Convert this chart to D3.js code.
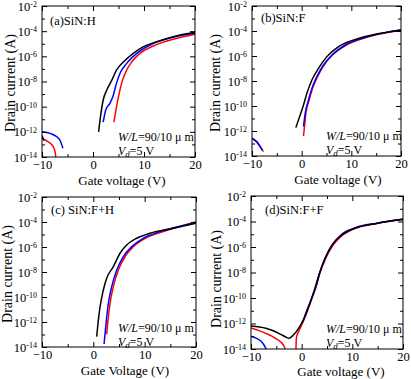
<!DOCTYPE html>
<html>
<head>
<meta charset="utf-8">
<script src="https://cdn.jsdelivr.net/npm/d3@7"></script>
<style>
  body { margin: 0; background: #fff; }
  svg { display: block; font-family: "Liberation Serif", "Times New Roman", serif; }
</style>
</head>
<body>
<div id="viz"></div>
<script>
// each point: [gate voltage (V), log10 of drain current (A)]
// (a) SiN:H
var aBlack = [[1.1,-12.0],[1.5,-10.7],[2.0,-9.47],[2.7,-8.68],[3.7,-7.88],[4.6,-7.09],[6.0,-6.43],[7.9,-5.76],[9.9,-5.23],[12.5,-4.84],[15.7,-4.44],[20,-4.09]];
var aBlue = [[2.0,-11.22],[2.5,-10.27],[3.3,-9.74],[3.9,-9.2],[4.6,-8.15],[5.3,-7.35],[6.6,-6.56],[8.6,-5.76],[11.2,-5.1],[15.7,-4.49],[20,-4.17]];
var aRed = [[4.1,-11.22],[4.5,-10.27],[5.0,-9.2],[5.6,-8.15],[6.6,-7.09],[7.6,-6.43],[9.2,-5.76],[11.8,-5.18],[15.7,-4.65],[20,-4.25]];
var aBlackOff = [[-10,-12.3],[-9.6,-12.7]];
var aBlueOff = [[-10,-11.99],[-8.4,-12.12],[-7.1,-12.39],[-6.5,-12.65],[-5.9,-13.31]];
var aRedOff = [[-10,-12.52],[-8.8,-12.79],[-7.8,-13.18],[-7.45,-13.58],[-7.3,-14.0],[-7.25,-14.5]];

// (b) SiN:F
var bBlack = [[-1.17,-11.73],[-0.3,-10.72],[0.37,-9.92],[1.05,-8.99],[2.06,-7.92],[3.39,-6.99],[5.08,-6.05],[7.43,-5.25],[10.1,-4.77],[14.2,-4.32],[20,-3.92]];
var bBlue = [[0.37,-11.65],[0.71,-10.59],[1.38,-9.52],[2.06,-8.59],[3.07,-7.65],[4.4,-6.72],[6.1,-5.92],[8.8,-5.12],[12.2,-4.58],[20,-3.92]];
var bRed = [[0.37,-12.4],[0.57,-11.65],[0.85,-10.6],[1.5,-9.52],[2.2,-8.59],[3.2,-7.65],[4.5,-6.72],[6.2,-5.92],[8.9,-5.14],[12.3,-4.6],[20,-3.94]];
var bBlueOff = [[-10,-12.58],[-9.05,-12.85],[-7.9,-13.55]];
var bRedOff = [[-10,-12.6],[-9.05,-12.9],[-7.7,-13.65]];

// (c) SiN:F+H
var cBlack = [[0.66,-13.17],[0.98,-11.84],[1.31,-10.78],[1.95,-9.44],[2.6,-8.5],[3.9,-7.57],[5.2,-6.5],[6.5,-5.84],[8.45,-5.3],[11.05,-4.9],[15.6,-4.5],[20,-4.1]];
var cBlue = [[2.09,-13.76],[2.48,-12.1],[2.93,-10.5],[3.58,-9.17],[4.56,-7.84],[5.85,-6.77],[7.49,-5.97],[9.75,-5.3],[13,-4.77],[20,-4.05]];
var cRed = [[2.6,-12.98],[2.8,-12.1],[3.26,-10.5],[3.9,-9.17],[4.87,-7.84],[6.18,-6.77],[7.8,-5.97],[10.1,-5.3],[13.6,-4.77],[20,-3.97]];

// (d) SiN:F+F
var dBlack = [[-10,-12.2],[-7.07,-12.38],[-4.5,-12.77],[-3.24,-13.04],[-2.49,-13.16],[-1.64,-12.9],[-0.38,-12.25],[0.9,-11.2],[1.85,-10.16],[2.5,-9.4],[3.4,-8.2],[4.7,-6.8],[6.0,-5.84],[7.9,-5.06],[10.5,-4.53],[14.9,-4.14],[20,-3.83]];
var dBlue = [[0.2,-11.9],[0.6,-11.45],[1.0,-11.0],[1.9,-10.1],[2.9,-9.0],[3.5,-8.1],[4.8,-6.75],[6.0,-5.85],[7.9,-5.0],[10.5,-4.5],[14.9,-4.13],[20,-3.83]];
var dRed = [[-1.15,-14.5],[-1.1,-13.6],[-1.0,-13.05],[-0.5,-12.55],[0,-12.12],[0.9,-11.25],[1.9,-10.15],[2.9,-9.05],[3.55,-8.1],[4.85,-6.8],[6.1,-5.9],[8.0,-5.1],[10.5,-4.55],[14.9,-4.15],[20,-3.85]];
var dBlueOff = [[-10,-13.0],[-9,-13.15],[-8,-13.4],[-7.2,-13.85],[-6.9,-14.1]];
var dRedOff = [[-10,-12.35],[-7.07,-12.77],[-5.16,-13.16],[-3.88,-13.55],[-3.4,-13.85],[-3.2,-14.1]];

// axis ticks
var xMajor = [-10, 0, 10, 20];
var xMinor = [-5, 5, 15];
var yMajorExp = [-2, -4, -6, -8, -10, -12, -14];
var yMinorExp = [-3, -5, -7, -9, -11, -13];

var width = 411, height = 379;

var svg = d3.select("#viz").append("svg")
  .attr("width", width)
  .attr("height", height);

// panel boxes and text placement
var panels = [
  { key: "a", x0: 42, x1: 195, y0: 6, y1: 157, name: "(a)SiN:H", nx: 50, ny: 25,
    tx: 118, ty: 141, xtitle: "Gate voltage (V)", xtx: 122, xty: 184.5, ytx: 15, yty: 83,
    curves: [[aRedOff, "red"], [aBlueOff, "blue"], [aBlackOff, "black"], [aRed, "red"], [aBlue, "blue"], [aBlack, "black"]] },
  { key: "b", x0: 252, x1: 401, y0: 6, y1: 156, name: "(b)SiN:F", nx: 261, ny: 22,
    tx: 326, ty: 140, xtitle: "Gate voltage (V)", xtx: 338, xty: 184, ytx: 220, yty: 83,
    curves: [[bRedOff, "red"], [bBlueOff, "blue"], [bRed, "red"], [bBlue, "blue"], [bBlack, "black"]] },
  { key: "c", x0: 42, x1: 196, y0: 197, y1: 347, name: "(c) SiN:F+H", nx: 51, ny: 214,
    tx: 118, ty: 332, xtitle: "Gate Voltage (V)", xtx: 125, xty: 374.5, ytx: 12, yty: 274,
    curves: [[cRed, "red"], [cBlue, "blue"], [cBlack, "black"]] },
  { key: "d", x0: 251, x1: 403, y0: 196, y1: 349, name: "(d)SiN:F+F", nx: 265, ny: 214,
    tx: 326, ty: 333, xtitle: "Gate voltage (V)", xtx: 341, xty: 376, ytx: 221, yty: 279,
    curves: [[dBlueOff, "blue"], [dRedOff, "red"], [dRed, "red"], [dBlue, "blue"], [dBlack, "black"]] }
];

var colors = { black: "#000000", blue: "#0000ff", red: "#ff0000" };

panels.forEach(function(p) {
  var x = d3.scaleLinear().domain([-10, 20]).range([p.x0, p.x1]);
  var y = d3.scaleLog().domain([1e-14, 1e-2]).range([p.y1, p.y0]);

  var g = svg.append("g").attr("class", "panel-" + p.key);

  g.append("clipPath").attr("id", "clip-" + p.key)
    .append("rect")
    .attr("x", p.x0).attr("y", p.y0)
    .attr("width", p.x1 - p.x0).attr("height", p.y1 - p.y0);

  // curves
  var line = d3.line()
    .x(function(d) { return x(d[0]); })
    .y(function(d) { return y(Math.pow(10, d[1])); })
    .curve(d3.curveMonotoneX);

  g.append("g").attr("clip-path", "url(#clip-" + p.key + ")")
    .selectAll("path")
    .data(p.curves)
    .enter().append("path")
    .attr("d", function(d) { return line(d[0]); })
    .attr("fill", "none")
    .attr("stroke", function(d) { return colors[d[1]]; })
    .attr("stroke-width", 1.5);

  // ticks pointing inward
  function noDomain(sel) { sel.select(".domain").remove(); }

  g.append("g").attr("transform", "translate(0," + p.y1 + ")")
    .call(d3.axisBottom(x).tickValues(xMajor).tickSizeInner(-5).tickSizeOuter(0).tickPadding(3))
    .call(noDomain)
    .attr("font-family", null).attr("font-size", 12.5);
  g.append("g").attr("transform", "translate(0," + p.y1 + ")")
    .call(d3.axisBottom(x).tickValues(xMinor).tickSize(-3).tickFormat(""))
    .call(noDomain);
  g.append("g").attr("transform", "translate(0," + p.y0 + ")")
    .call(d3.axisTop(x).tickValues(xMajor).tickSize(-5).tickFormat(""))
    .call(noDomain);
  g.append("g").attr("transform", "translate(0," + p.y0 + ")")
    .call(d3.axisTop(x).tickValues(xMinor).tickSize(-3).tickFormat(""))
    .call(noDomain);

  var yMaj = yMajorExp.map(function(e) { return Math.pow(10, e); });
  var yMin = yMinorExp.map(function(e) { return Math.pow(10, e); });

  var yl = g.append("g").attr("transform", "translate(" + p.x0 + ",0)")
    .call(d3.axisLeft(y).tickValues(yMaj).tickSizeInner(-5).tickSizeOuter(0).tickPadding(5))
    .call(noDomain)
    .attr("font-family", null).attr("font-size", 12.5);
  yl.selectAll(".tick text").each(function(d) {
    var t = d3.select(this).text(null);
    t.append("tspan").text("10");
    t.append("tspan").attr("dy", "-0.45em").attr("font-size", 8)
      .text(Math.round(Math.log10(d)));
  });
  g.append("g").attr("transform", "translate(" + p.x0 + ",0)")
    .call(d3.axisLeft(y).tickValues(yMin).tickSize(-3).tickFormat(""))
    .call(noDomain);
  g.append("g").attr("transform", "translate(" + p.x1 + ",0)")
    .call(d3.axisRight(y).tickValues(yMaj).tickSize(-5).tickFormat(""))
    .call(noDomain);
  g.append("g").attr("transform", "translate(" + p.x1 + ",0)")
    .call(d3.axisRight(y).tickValues(yMin).tickSize(-3).tickFormat(""))
    .call(noDomain);

  // frame
  g.append("rect")
    .attr("x", p.x0).attr("y", p.y0)
    .attr("width", p.x1 - p.x0).attr("height", p.y1 - p.y0)
    .attr("fill", "none").attr("stroke", "#000").attr("stroke-width", 1);

  // panel name
  g.append("text").attr("x", p.nx).attr("y", p.ny)
    .attr("font-size", 12.5).text(p.name);

  // device note
  var wl = g.append("text").attr("x", p.tx).attr("y", p.ty).attr("font-size", 12);
  wl.append("tspan").attr("font-style", "italic").text("W/L");
  wl.append("tspan").text("=90/10 \u03bc m");
  var vd = g.append("text").attr("x", p.tx).attr("y", p.ty + 14).attr("font-size", 12);
  vd.append("tspan").attr("font-style", "italic").text("V");
  vd.append("tspan").attr("font-style", "italic").attr("font-size", 9).attr("dy", 2).text("d");
  vd.append("tspan").attr("dy", -2).text("=5 V");

  // axis titles
  g.append("text").attr("x", p.xtx).attr("y", p.xty)
    .attr("text-anchor", "middle").attr("font-size", 13).text(p.xtitle);
  g.append("text")
    .attr("transform", "translate(" + p.ytx + "," + p.yty + ") rotate(-90)")
    .attr("text-anchor", "middle").attr("font-size", 14).text("Drain current (A)");
});
</script>
</body>
</html>
